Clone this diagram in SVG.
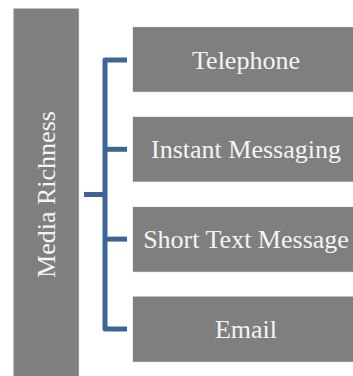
<svg xmlns="http://www.w3.org/2000/svg" width="353" height="376" viewBox="0 0 353 376">
<style>
.box{fill:#7F7F7F;stroke:#FFFFFF;stroke-width:1}
.lbl{font-size:26px;fill:#F4F4F4;text-anchor:middle}
.conn{fill:none;stroke:#3A6595;stroke-width:5;stroke-linejoin:round;stroke-linecap:butt}
</style>
<rect width="353" height="376" fill="#FFFFFF"/>
<g id="connectors">
<path class="conn" d="M127,60 H105 V329 H127"/>
<path class="conn" d="M105,149.3 H127"/>
<path class="conn" d="M105,239.1 H127"/>
<path class="conn" d="M84,194.5 H105"/>
</g>
<g font-family="'Liberation Serif', 'Times New Roman', Tinos, 'DejaVu Serif', serif">
<g id="media-richness">
<rect class="box" x="13" y="8" width="66.3" height="380"/>
<text class="lbl" transform="translate(55,194.5) rotate(-90)">Media Richness</text>
</g>
<g id="telephone">
<rect class="box" x="132.3" y="26.6" width="228" height="65.7"/>
<text class="lbl" x="246" y="69.3">Telephone</text>
</g>
<g id="instant-messaging">
<rect class="box" x="132.3" y="116.3" width="228" height="65.9"/>
<text class="lbl" x="246" y="158.3">Instant Messaging</text>
</g>
<g id="short-text-message">
<rect class="box" x="132.3" y="206.4" width="228" height="65.9"/>
<text class="lbl" x="246" y="247.8">Short Text Message</text>
</g>
<g id="email">
<rect class="box" x="132.3" y="296" width="228" height="66.3"/>
<text class="lbl" x="246" y="337.7">Email</text>
</g>
</g>
</svg>
